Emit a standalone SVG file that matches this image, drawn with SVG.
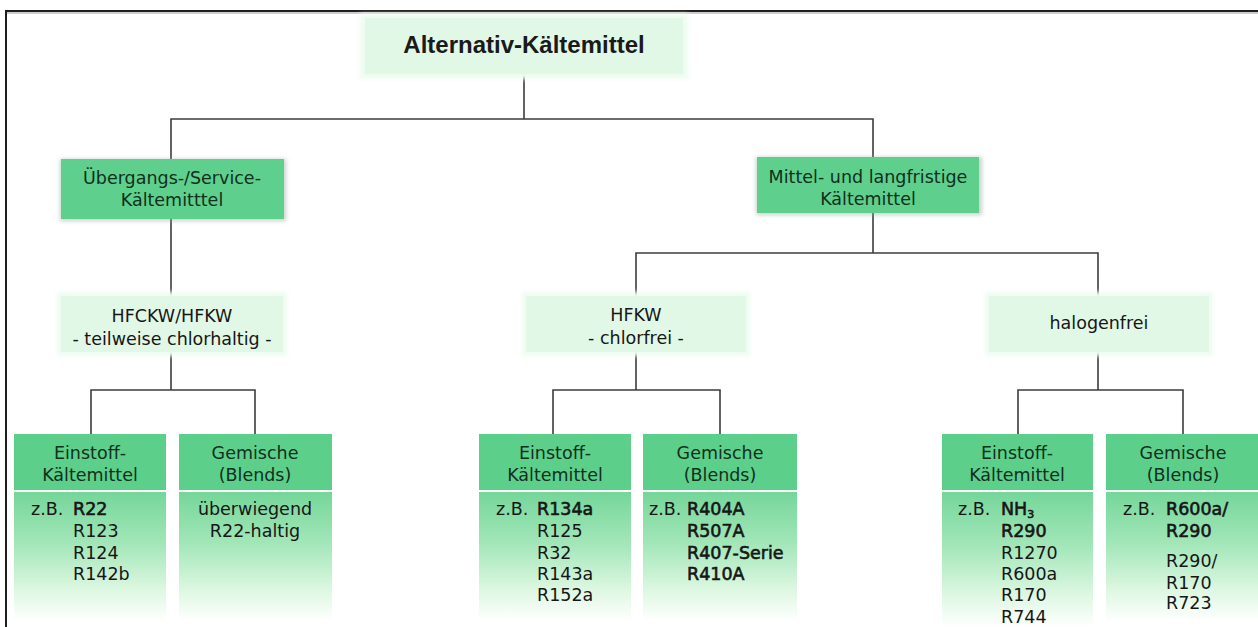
<svg xmlns="http://www.w3.org/2000/svg" width="1258" height="627" viewBox="0 0 1258 627">
  <defs>
    <linearGradient id="bodyGrad" x1="0" y1="0" x2="0" y2="1">
      <stop offset="0" stop-color="#74d699"/>
      <stop offset="0.4" stop-color="#a2e6b8"/>
      <stop offset="0.75" stop-color="#dbf7e0"/>
      <stop offset="1" stop-color="#ffffff"/>
    </linearGradient>
    <filter id="soft" x="-10%" y="-20%" width="120%" height="140%">
      <feGaussianBlur stdDeviation="2"/>
    </filter>
  </defs>
  <style>
    .frame { stroke: #1e1e1e; stroke-width: 2; fill: none; }
    .frame2 { stroke: #9a9a9a; stroke-width: 1; fill: none; }
    .conn { stroke: #3c3c3c; stroke-width: 1.6; fill: none; }
    .light { fill: #e2f8e7; }
    .halo { fill: #eefcf0; filter: url(#soft); }
    .mid { fill: #5ecf8d; }
    .midshadow { fill: #8fa89a; opacity: 0.5; filter: url(#soft); }
    .head { fill: #5ccf8b; }
    .body { fill: url(#bodyGrad); }
    .divider { stroke: #ffffff; stroke-width: 2; }
    text { font-family: "DejaVu Sans", Verdana, sans-serif; font-size: 17.5px; fill: #161616; }
    .c { text-anchor: middle; }
    .title { font-family: "Liberation Sans", Arial, sans-serif; font-weight: bold; font-size: 24px; fill: #1a1a1a; }
    .b { stroke: #161616; stroke-width: 0.6; }
    .g { fill: #10301c; }
  </style>

  <rect width="1258" height="627" fill="#ffffff"/>
  <g id="frame">
    <line class="frame" x1="6" y1="11" x2="1258" y2="11"/>
    <line class="frame2" x1="7" y1="13" x2="1258" y2="13"/>
    <line class="frame" x1="6" y1="10" x2="6" y2="627"/>
  </g>

  <g id="connectors">
    <polyline class="conn" points="524,74 524,119"/>
    <polyline class="conn" points="171,159 171,119 873,119 873,157"/>
    <polyline class="conn" points="171,219 171,296"/>
    <polyline class="conn" points="873,213 873,253"/>
    <polyline class="conn" points="636,296 636,253 1098,253 1098,296"/>
    <polyline class="conn" points="171,352 171,390"/>
    <polyline class="conn" points="91,434 91,390 255,390 255,434"/>
    <polyline class="conn" points="636,352 636,390"/>
    <polyline class="conn" points="553,434 553,390 720,390 720,434"/>
    <polyline class="conn" points="1098,352 1098,390"/>
    <polyline class="conn" points="1018,434 1018,390 1183,390 1183,434"/>
  </g>

  <g id="n-root">
    <rect class="halo" x="360" y="14" width="328" height="65"/>
    <rect class="light" x="365" y="18" width="318" height="56"/>
    <text class="title c" x="524" y="53">Alternativ-Kältemittel</text>
  </g>

  <g id="n-uebergang">
    <rect class="midshadow" x="60" y="159" width="226" height="62"/>
    <rect class="mid" x="61" y="159" width="223" height="60"/>
    <text class="c g" x="172" y="184">Übergangs-/Service-</text>
    <text class="c g" x="172" y="206">Kältemitttel</text>
  </g>

  <g id="n-mittel">
    <rect class="midshadow" x="756" y="157" width="226" height="58"/>
    <rect class="mid" x="757" y="157" width="222" height="56"/>
    <text class="c g" x="868" y="183">Mittel- und langfristige</text>
    <text class="c g" x="868" y="205">Kältemittel</text>
  </g>

  <g id="n-hfckw">
    <rect class="halo" x="57" y="292" width="230" height="64"/>
    <rect class="light" x="61" y="296" width="222" height="56"/>
    <text class="c" x="172" y="322">HFCKW/HFKW</text>
    <text class="c" x="172" y="345">- teilweise chlorhaltig -</text>
  </g>

  <g id="n-hfkw">
    <rect class="halo" x="522" y="292" width="228" height="64"/>
    <rect class="light" x="526" y="296" width="220" height="56"/>
    <text class="c" x="636" y="321">HFKW</text>
    <text class="c" x="636" y="344">- chlorfrei -</text>
  </g>

  <g id="n-halogenfrei">
    <rect class="halo" x="985" y="292" width="228" height="64"/>
    <rect class="light" x="989" y="296" width="220" height="56"/>
    <text class="c" x="1099" y="329">halogenfrei</text>
  </g>

  <g id="n-einstoff-1">
    <rect class="head" x="14" y="434" width="152" height="56"/>
    <rect class="body" x="14" y="491" width="152" height="130"/>
    <line class="divider" x1="14" y1="491" x2="166" y2="491"/>
    <text class="c g" x="90" y="459">Einstoff-</text>
    <text class="c g" x="90" y="481">Kältemittel</text>
    <text x="31" y="515">z.B.</text>
    <text class="b" x="73" y="515">R22</text>
    <text x="73" y="537">R123</text>
    <text x="73" y="559">R124</text>
    <text x="73" y="580">R142b</text>
  </g>

  <g id="n-gemische-1">
    <rect class="head" x="179" y="434" width="153" height="56"/>
    <rect class="body" x="179" y="491" width="153" height="130"/>
    <line class="divider" x1="179" y1="491" x2="332" y2="491"/>
    <text class="c g" x="255" y="459">Gemische</text>
    <text class="c g" x="255" y="481">(Blends)</text>
    <text class="c" x="255" y="515">überwiegend</text>
    <text class="c" x="255" y="537">R22-haltig</text>
  </g>

  <g id="n-einstoff-2">
    <rect class="head" x="479" y="434" width="152" height="56"/>
    <rect class="body" x="479" y="491" width="152" height="130"/>
    <line class="divider" x1="479" y1="491" x2="631" y2="491"/>
    <text class="c g" x="555" y="459">Einstoff-</text>
    <text class="c g" x="555" y="481">Kältemittel</text>
    <text x="496" y="515">z.B.</text>
    <text class="b" x="537" y="515">R134a</text>
    <text x="537" y="537">R125</text>
    <text x="537" y="559">R32</text>
    <text x="537" y="580">R143a</text>
    <text x="537" y="601">R152a</text>
  </g>

  <g id="n-gemische-2">
    <rect class="head" x="643" y="434" width="154" height="56"/>
    <rect class="body" x="643" y="491" width="154" height="130"/>
    <line class="divider" x1="643" y1="491" x2="797" y2="491"/>
    <text class="c g" x="720" y="459">Gemische</text>
    <text class="c g" x="720" y="481">(Blends)</text>
    <text x="649" y="515">z.B.</text>
    <text class="b" x="687" y="515">R404A</text>
    <text class="b" x="687" y="537">R507A</text>
    <text class="b" x="687" y="559">R407-Serie</text>
    <text class="b" x="687" y="580">R410A</text>
  </g>

  <g id="n-einstoff-3">
    <rect class="head" x="942" y="434" width="151" height="56"/>
    <rect class="body" x="942" y="491" width="151" height="136"/>
    <line class="divider" x1="942" y1="491" x2="1093" y2="491"/>
    <text class="c g" x="1017" y="459">Einstoff-</text>
    <text class="c g" x="1017" y="481">Kältemittel</text>
    <text x="958" y="515">z.B.</text>
    <text class="b" x="1001" y="515">NH<tspan font-size="11" dy="3">3</tspan></text>
    <text class="b" x="1001" y="537">R290</text>
    <text x="1001" y="559">R1270</text>
    <text x="1001" y="580">R600a</text>
    <text x="1001" y="601">R170</text>
    <text x="1001" y="623">R744</text>
  </g>

  <g id="n-gemische-3">
    <rect class="head" x="1106" y="434" width="152" height="56"/>
    <rect class="body" x="1106" y="491" width="152" height="130"/>
    <line class="divider" x1="1106" y1="491" x2="1258" y2="491"/>
    <text class="c g" x="1183" y="459">Gemische</text>
    <text class="c g" x="1183" y="481">(Blends)</text>
    <text x="1123" y="515">z.B.</text>
    <text class="b" x="1166" y="515">R600a/</text>
    <text class="b" x="1166" y="537">R290</text>
    <text x="1166" y="567">R290/</text>
    <text x="1166" y="589">R170</text>
    <text x="1166" y="609">R723</text>
  </g>
</svg>
